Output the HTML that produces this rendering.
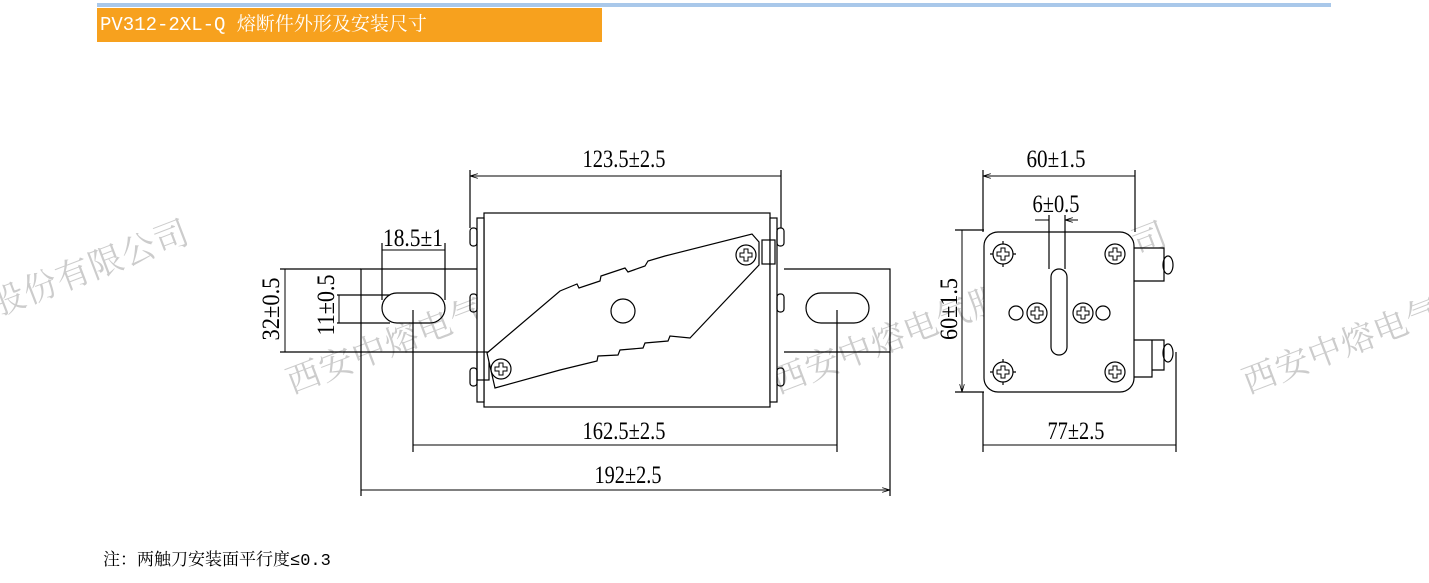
<!DOCTYPE html>
<html><head><meta charset="utf-8"><style>
html,body{margin:0;padding:0;background:#fff;}
body{width:1429px;height:583px;position:relative;overflow:hidden;font-family:"Liberation Serif","Noto Serif CJK SC",serif;}
.hdr{position:absolute;left:97px;top:8px;width:505px;height:34px;background:#f7a11e;color:#fff;font-family:"Liberation Mono","Noto Serif CJK SC",monospace;font-size:19px;line-height:34px;padding-left:3px;box-sizing:border-box;}
.bl{position:absolute;left:97px;top:3px;width:1234px;height:4px;background:#a9c8ea;}
.ft{position:absolute;left:103px;top:545px;font-size:17px;font-family:"Liberation Mono","Noto Serif CJK SC",monospace;color:#000;}
</style></head><body>
<div class="bl"></div>
<div class="hdr">PV312-2XL-Q 熔断件外形及安装尺寸</div>
<svg width="1429" height="583" style="position:absolute;left:0;top:0" xmlns="http://www.w3.org/2000/svg">
<defs>
<marker id="a" viewBox="0 0 10 6" refX="10" refY="3" markerWidth="8" markerHeight="5" orient="auto-start-reverse"><path d="M0,0L10,3L0,6" fill="none" stroke="#000" stroke-width="1"/></marker>
<g id="scr"><circle r="10" fill="#fff" stroke="#000" stroke-width="1.2"/><path d="M-2,-6h4v4h4v4h-4v4h-4v-4h-4v-4h4z" fill="none" stroke="#000" stroke-width="1"/></g>
</defs>
<g fill="#bbb" font-size="34" font-family="'Noto Serif CJK SC',serif" opacity="0.75" letter-spacing="1">
<text transform="translate(-200,392) rotate(-21)">西安中熔电气股份有限公司</text>
<text transform="translate(292,394) rotate(-21)">西安中熔电气股份有限公司</text>
<text transform="translate(778,394) rotate(-21)">西安中熔电气股份有限公司</text>
<text transform="translate(1248,394) rotate(-21)">西安中熔电气股份有限公司</text>
</g>
<g fill="none" stroke="#000" stroke-width="1.2">
<path d="M477,269H361V352H477M784,269H890V352H784"/>
<rect x="382" y="293" width="63" height="30" rx="15"/>
<rect x="806" y="293" width="63" height="30" rx="15"/>
<rect x="484" y="213" width="286" height="194" fill="#fff"/>
<rect x="477" y="218" width="7" height="184" fill="#fff"/>
<rect x="770" y="218" width="7" height="184" fill="#fff"/>
<rect x="470" y="228" width="7" height="18" rx="3"/><rect x="470" y="294" width="7" height="18" rx="3"/><rect x="470" y="368" width="7" height="18" rx="3"/>
<rect x="777" y="228" width="7" height="18" rx="3"/><rect x="777" y="294" width="7" height="18" rx="3"/><rect x="777" y="368" width="7" height="18" rx="3"/>
<rect x="477" y="352" width="12" height="28"/><rect x="762" y="240" width="13" height="24"/>
<path d="M487,353L560,291L577,284L579,288L600,281L601,276L625,268L628,272L645,266L648,261L665,256L752,234L759,242L759,265L690,338L670,336L668,341L645,343L643,348L620,350L618,355L598,356L597,361L560,370L495,388Z" fill="#fff"/>
<circle cx="623" cy="311" r="12"/>
<path d="M470,228V170M781,228V170M382,300V243M445,300V243M280,269H361M280,352H361M337,295H390M337,323H390M413,310V452M837,310V452M361,352V496M890,352V496"/>
<path d="M470,176H781M382,250H445M285,269V352M339,295V323M413,445H837M361,490H890" marker-start="url(#a)" marker-end="url(#a)" stroke-width="1"/>
<rect x="984" y="232" width="150" height="160" rx="14" fill="#fff"/>
<path d="M1134,248H1164V281H1134M1134,340H1152V377H1134M1152,340H1164V370H1152"/>
<ellipse cx="1168" cy="265" rx="5" ry="9"/><ellipse cx="1168" cy="353" rx="5" ry="9"/>
<rect x="1051" y="269" width="16" height="86" rx="8"/>
<circle cx="1016" cy="313" r="7"/><circle cx="1103" cy="313" r="7"/>
<path d="M983,232V170M1135,232V170M1049,269V215M1065,269V215M955,230H984M955,392H984M983,392V452M1176,352V452M990,254H1016M1003,241V267M990,372H1016M1003,359V385"/>
<path d="M983,176H1135M983,445H1176M962,230V392" marker-start="url(#a)" marker-end="url(#a)" stroke-width="1"/>
<path d="M1035,220H1049M1078,220H1065" marker-end="url(#a)" stroke-width="1"/>
</g>
<use href="#scr" x="746" y="255"/><use href="#scr" x="501" y="369"/>
<use href="#scr" x="1003" y="254"/><use href="#scr" x="1115" y="254"/><use href="#scr" x="1003" y="372"/><use href="#scr" x="1115" y="372"/>
<use href="#scr" x="1037" y="313"/><use href="#scr" x="1083" y="313"/>
<g font-size="25" fill="#000" text-anchor="middle" font-family="'Liberation Serif',serif" lengthAdjust="spacingAndGlyphs">
<text x="624" y="167" textLength="83" lengthAdjust="spacingAndGlyphs">123.5±2.5</text>
<text x="413" y="246" textLength="60" lengthAdjust="spacingAndGlyphs">18.5±1</text>
<text x="624" y="439" textLength="83" lengthAdjust="spacingAndGlyphs">162.5±2.5</text>
<text x="628" y="483" textLength="67" lengthAdjust="spacingAndGlyphs">192±2.5</text>
<text transform="translate(279,309) rotate(-90)" textLength="63" lengthAdjust="spacingAndGlyphs">32±0.5</text>
<text transform="translate(334,305) rotate(-90)" textLength="61" lengthAdjust="spacingAndGlyphs">11±0.5</text>
<text x="1056" y="167" textLength="59" lengthAdjust="spacingAndGlyphs">60±1.5</text>
<text x="1056" y="212" textLength="47" lengthAdjust="spacingAndGlyphs">6±0.5</text>
<text transform="translate(957,309) rotate(-90)" textLength="62" lengthAdjust="spacingAndGlyphs">60±1.5</text>
<text x="1076" y="439" textLength="57" lengthAdjust="spacingAndGlyphs">77±2.5</text>
</g>
</svg>
<div class="ft">注：两触刀安装面平行度≤0.3</div>
</body></html>
